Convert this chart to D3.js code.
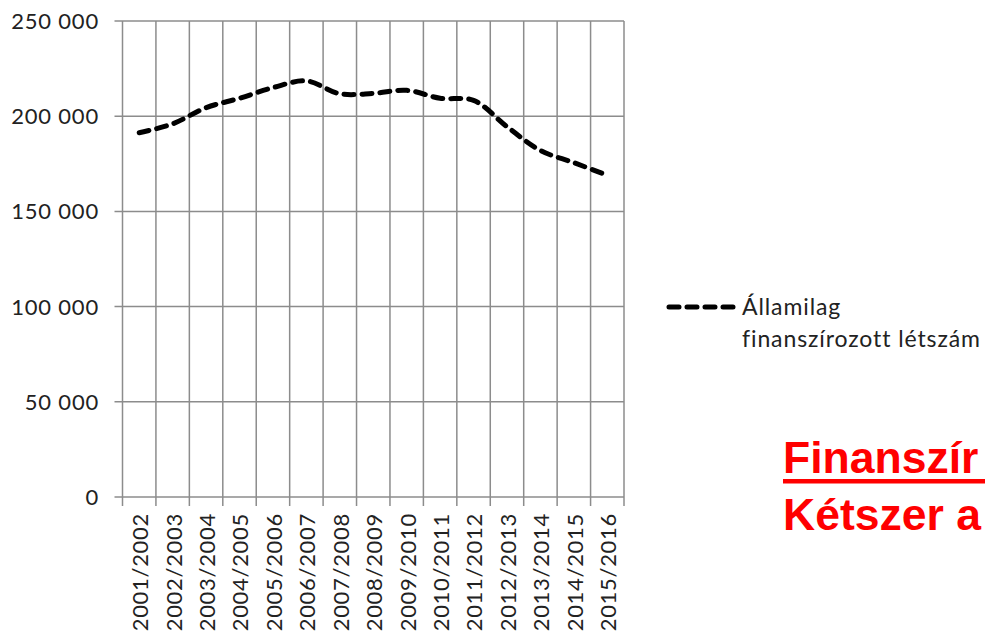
<!DOCTYPE html>
<html>
<head>
<meta charset="utf-8">
<script src="https://cdn.jsdelivr.net/npm/d3@7"></script>
<style>
  html, body { margin: 0; padding: 0; background: #fff; overflow: hidden; }
  svg { display: block; }
</style>
</head>
<body>
<svg id="chart" width="985" height="635"></svg>
<script>
const categories = ["2001/2002","2002/2003","2003/2004","2004/2005","2005/2006","2006/2007","2007/2008","2008/2009","2009/2010","2010/2011","2011/2012","2012/2013","2013/2014","2014/2015","2015/2016"];
const values = [191300, 196000, 204500, 209400, 215000, 218500, 211800, 212000, 213600, 209400, 208300, 194500, 182000, 175600, 169000];
const yTicks = [0, 50000, 100000, 150000, 200000, 250000];
const seriesName = ["Államilag", "finanszírozott létszám"];
const noteLines = ["Finanszír", "Kétszer a"];

const svg = d3.select("#chart");
const plotLeft = 122.5, plotRight = 624, plotTop = 21, plotBottom = 497;

const x = d3.scaleBand().domain(categories).range([plotLeft, plotRight]).paddingInner(0).paddingOuter(0);
const y = d3.scaleLinear().domain([0, 250000]).range([plotBottom, plotTop]);

const grid = "#8c8c8c";
const fmt = v => d3.format(",")(v).replace(/,/g, " ");

// horizontal gridlines
svg.append("g").selectAll("line").data(yTicks).join("line")
  .attr("x1", plotLeft - 8).attr("x2", plotRight)
  .attr("y1", d => y(d)).attr("y2", d => y(d))
  .attr("stroke", grid).attr("stroke-width", 1.5);

// vertical gridlines at category boundaries
const bounds = categories.map(c => x(c)).concat([plotRight]);
svg.append("g").selectAll("line").data(bounds).join("line")
  .attr("x1", d => d).attr("x2", d => d)
  .attr("y1", plotTop).attr("y2", plotBottom + 9)
  .attr("stroke", grid).attr("stroke-width", 1.5);

// y labels
svg.append("g").selectAll("text").data(yTicks).join("text")
  .attr("x", 99).attr("y", d => y(d))
  .attr("dy", "0.36em")
  .attr("text-anchor", "end")
  .attr("font-family", "Lato, 'Open Sans', sans-serif")
  .attr("font-size", 22)
  .attr("letter-spacing", 0.8)
  .attr("fill", "#222")
  .text(d => fmt(d));

// x labels
svg.append("g").selectAll("text").data(categories).join("text")
  .attr("transform", d => `translate(${x(d) + x.bandwidth() / 2 + 1},${plotBottom + 16}) rotate(-90)`)
  .attr("dy", "0.36em")
  .attr("text-anchor", "end")
  .attr("font-family", "Lato, 'Open Sans', sans-serif")
  .attr("font-size", 22)
  .attr("letter-spacing", 0.7)
  .attr("fill", "#222")
  .text(d => d);

// line
const line = d3.line()
  .x((d, i) => x(categories[i]) + x.bandwidth() / 2)
  .y(d => y(d))
  .curve(d3.curveCatmullRom.alpha(0.5));

svg.append("path").datum(values)
  .attr("d", line)
  .attr("fill", "none")
  .attr("stroke", "#000")
  .attr("stroke-width", 5)
  .attr("stroke-linecap", "round")
  .attr("stroke-dasharray", "10,8");

// legend
svg.append("line")
  .attr("x1", 669).attr("x2", 737).attr("y1", 307).attr("y2", 307)
  .attr("stroke", "#000").attr("stroke-width", 5)
  .attr("stroke-linecap", "round").attr("stroke-dasharray", "10,8");
svg.append("g").selectAll("text").data(seriesName).join("text")
  .attr("x", 742).attr("y", (d, i) => 315 + i * 31.5)
  .attr("font-family", "Lato, 'Open Sans', sans-serif")
  .attr("font-size", 23)
  .attr("letter-spacing", 0.9)
  .attr("fill", "#222")
  .text(d => d);

// red note (as visible in the reference)
svg.append("g").selectAll("text").data(noteLines).join("text")
  .attr("x", 783).attr("y", (d, i) => 473 + i * 57)
  .attr("font-family", "'Liberation Sans', Arial, sans-serif")
  .attr("font-weight", "bold")
  .attr("font-size", 44.5)
  .attr("fill", "#ff0000")
  .text(d => d);
svg.append("rect")
  .attr("x", 783).attr("y", 479).attr("width", 985 - 783).attr("height", 4.5)
  .attr("fill", "#ff0000");
</script>
</body>
</html>
